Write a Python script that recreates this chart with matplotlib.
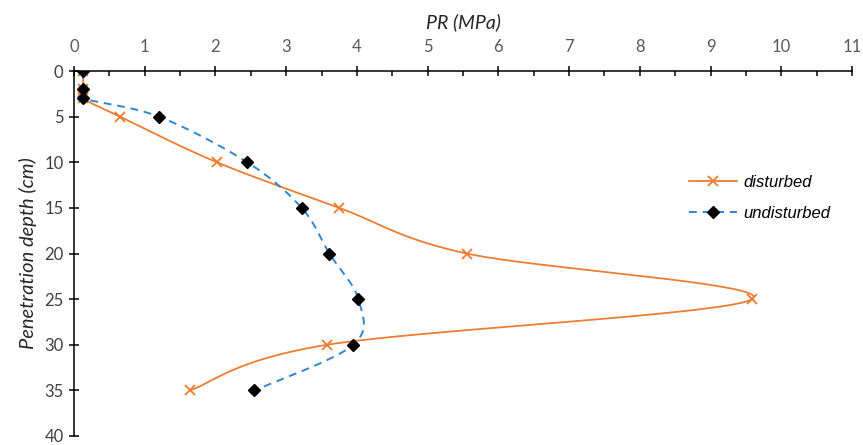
import numpy as np
import matplotlib
matplotlib.use("Agg")
import matplotlib.pyplot as plt
from matplotlib.ticker import MultipleLocator
from matplotlib.lines import Line2D

# depth (cm) and penetration resistance (MPa)
depth = [0, 2, 3, 5, 10, 15, 20, 25, 30, 35]
disturbed = [0.13, 0.13, 0.13, 0.65, 2.02, 3.75, 5.55, 9.59, 3.58, 1.64]
undisturbed = [0.13, 0.13, 0.13, 1.20, 2.45, 3.22, 3.61, 4.02, 3.95, 2.55]

ORANGE = "#ED7D31"
BLUE = "#2E86D1"

plt.rcParams["font.family"] = ["Lato", "DejaVu Sans"]


def smooth(ax, xs, ys, n=40):
    # Excel-like smoothed line: Catmull-Rom beziers computed in screen space
    pts = ax.transData.transform(np.column_stack([xs, ys]))
    P = np.vstack([pts[0], pts, pts[-1]])
    t = np.linspace(0, 1, n)[:, None]
    segs = []
    for i in range(1, len(P) - 2):
        p0, p1, p2, p3 = P[i - 1], P[i], P[i + 1], P[i + 2]
        c1 = p1 + (p2 - p0) / 6
        c2 = p2 - (p3 - p1) / 6
        segs.append((1 - t) ** 3 * p1 + 3 * (1 - t) ** 2 * t * c1
                    + 3 * (1 - t) * t ** 2 * c2 + t ** 3 * p2)
    out = ax.transData.inverted().transform(np.vstack(segs))
    return out[:, 0], out[:, 1]


fig = plt.figure(figsize=(8.63, 4.45), dpi=100)
ax = fig.add_axes([74 / 863, 1 - 436 / 445, (852 - 74) / 863, (436 - 71) / 445])
ax.set_xlim(0, 11)
ax.set_ylim(40, 0)

ax.xaxis.set_ticks_position("top")
ax.xaxis.set_label_position("top")
ax.xaxis.set_major_locator(MultipleLocator(1))
ax.xaxis.set_minor_locator(MultipleLocator(0.5))
ax.yaxis.set_major_locator(MultipleLocator(5))
for s in ("right", "bottom"):
    ax.spines[s].set_visible(False)
for s in ("left", "top"):
    ax.spines[s].set_linewidth(1.1)
    ax.spines[s].set_color("black")
ax.tick_params(which="major", direction="inout", length=7, width=1.1,
               labelsize=12, labelcolor="#595959")
ax.tick_params(axis="x", which="major", pad=8)
ax.tick_params(axis="y", which="major", pad=4, labelcolor="#404040")
ax.tick_params(axis="x", which="minor", direction="in", length=3.5, width=1.1)

xs, ys = smooth(ax, disturbed, depth)
ax.plot(xs, ys, color=ORANGE, lw=1.3, zorder=2)
ax.plot(disturbed, depth, "x", color=ORANGE, ms=7, mew=1.3, zorder=3)
xs, ys = smooth(ax, undisturbed, depth)
ax.plot(xs, ys, color=BLUE, lw=1.4, dashes=(4, 3), zorder=2)
ax.plot(undisturbed, depth, "D", color="black", ms=6, zorder=4)

ax.set_xlabel("PR (MPa)", fontsize=14, style="italic", color="#262626", labelpad=8)
ax.set_ylabel("Penetration depth (cm)", fontsize=14.5, style="italic", color="#262626",
              labelpad=5)

handles = [
    Line2D([], [], color=ORANGE, lw=1.3, marker="x", ms=7, mew=1.3),
    Line2D([], [], color=BLUE, lw=1.4, dashes=(4, 3), marker="D", ms=6,
           mfc="black", mec="black"),
]
leg = ax.legend(handles, ["disturbed", "undisturbed"], loc="upper left",
                bbox_to_anchor=(674 / 863, 1 - 160 / 445), bbox_transform=fig.transFigure,
                frameon=False, handlelength=2.9, handletextpad=0.35, labelspacing=0.95,
                prop={"family": "Liberation Sans", "style": "italic", "size": 12})
for t in leg.get_texts():
    t.set_color("black")

fig.savefig("out.png", dpi=100)
